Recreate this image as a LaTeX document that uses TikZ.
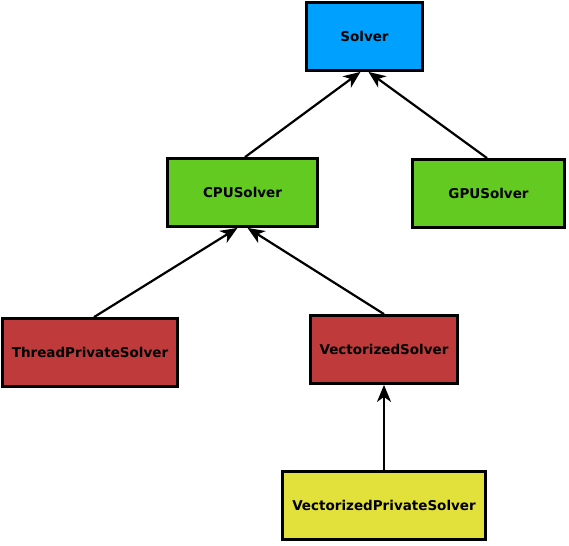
\documentclass[tikz,border=0pt]{standalone}
\usepackage{fontspec}
\setmainfont{DejaVu Sans}
\usetikzlibrary{arrows.meta}
\definecolor{solverblue}{RGB}{0,160,255}
\definecolor{cpugreen}{RGB}{99,202,33}
\definecolor{threadred}{RGB}{191,59,59}
\definecolor{vecyellow}{RGB}{226,224,58}
\tikzset{
  cls/.style={draw,rectangle,line width=2.8pt,minimum height=68pt,align=center,
    font=\fontsize{13.5}{15}\selectfont\bfseries},
  inherit/.style={-{Stealth[length=17pt,width=14pt,inset=5pt]},line width=2.2pt}
}

\begin{document}
\begin{tikzpicture}
  \useasboundingbox (0,0) rectangle (569pt,-545pt);
  \node[cls,fill=solverblue,minimum width=116pt] (solver) at (364.5pt,-36.5pt) {Solver};
  \node[cls,fill=cpugreen,minimum width=150pt] (cpu) at (242.5pt,-192.5pt) {CPUSolver};
  \node[cls,fill=cpugreen,minimum width=152pt] (gpu) at (488.5pt,-193.5pt) {GPUSolver};
  \node[cls,fill=threadred,minimum width=175pt] (thread) at (90pt,-352.5pt) {ThreadPrivateSolver};
  \node[cls,fill=threadred,minimum width=147pt] (vec) at (384pt,-349.5pt) {VectorizedSolver};
  \node[cls,fill=vecyellow,minimum width=203pt] (vecpriv) at (384pt,-505.5pt) {VectorizedPrivateSolver};
  \draw[inherit] ([xshift=2.5pt]cpu.north)--([xshift=-4pt]solver.south);
  \draw[inherit] ([xshift=-1.5pt]gpu.north)--([xshift=4pt]solver.south);
  \draw[inherit] ([xshift=4pt]thread.north)--([xshift=-5pt]cpu.south);
  \draw[inherit] (vec.north)--([xshift=5pt]cpu.south);
  \draw[inherit] (vecpriv.north)--(vec.south);
\end{tikzpicture}
\end{document}
